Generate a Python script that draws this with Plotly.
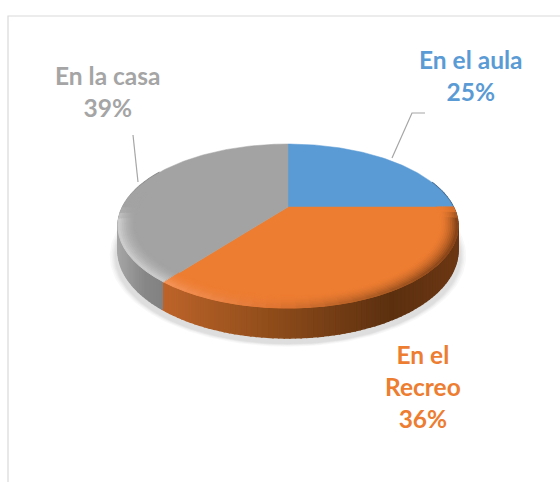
import numpy as np
import plotly.graph_objects as go

categories = ["En el aula", "En el Recreo", "En la casa"]
values = [25, 35.5, 39.5]
labels = ["En el aula<br>25%", "En el<br>Recreo<br>36%", "En la casa<br>39%"]
colors = ["#5B9BD5", "#ED7D31", "#A3A3A3"]
text_colors = ["#5B9BD5", "#ED7D31", "#A5A5A5"]

# perspective disc model (pixel-like axis units)
CX, CY, A, B, K, DEPTH = 288, 207, 165.4, 77.6, 0.2317, 23


def project(theta, r=1.0, down=False):
    X = r * np.sin(theta)
    Y = r * np.cos(theta)
    den = 1 + K * Y
    x = CX + A * X / den
    y = CY - B * Y / den
    if down:
        y = y + DEPTH / den
    return x, y


def lerp_stops(s, stops):
    xs = [p[0] for p in stops]
    return [float(np.interp(s, xs, [p[1][i] for p in stops])) for i in range(3)]


def rgb(c):
    return "rgb(%d,%d,%d)" % tuple(int(round(v)) for v in c)


WALL = {
    0: [(-1, (90, 130, 170)), (1, (60, 95, 130))],
    1: [(-0.75, (190, 100, 42)), (-0.2, (150, 80, 28)), (0.6, (92, 48, 15)), (1, (108, 55, 20))],
    2: [(-1, (165, 165, 165)), (-0.85, (135, 135, 135)), (-0.7, (128, 128, 128))],
}
RIM = {
    0: [(-1, (91, 155, 213)), (1, (91, 155, 213))],
    1: [(-0.75, (246, 150, 92)), (-0.1, (225, 118, 52)), (0.6, (160, 85, 32)), (1, (125, 62, 22))],
    2: [(-1, (208, 208, 208)), (-0.7, (205, 205, 205))],
}

edges = 2 * np.pi * np.cumsum([0] + values) / sum(values)


def slice_index(theta):
    return int(np.clip(np.searchsorted(edges, theta, side="right") - 1, 0, len(values) - 1))


def poly(fig, x, y, color, width=1.0):
    fig.add_trace(go.Scatter(
        x=list(x) + [x[0]], y=list(y) + [y[0]], mode="lines", fill="toself",
        fillcolor=color, line=dict(color=color, width=width),
        hoverinfo="skip", showlegend=False))


fig = go.Figure()

# soft floor shadow
circle = np.linspace(0, 2 * np.pi, 181)
for i, grow in enumerate([1.03, 1.02, 1.012, 1.006, 1.0]):
    sx = 288 + 173 * grow * np.sin(circle)
    sy = 256 + 88 * grow * np.cos(circle)
    poly(fig, sx, sy, "rgba(120,120,120,0.05)", width=0)

# side wall
steps = np.radians(np.arange(70, 300, 1.5))
for t0, t1 in zip(steps[:-1], steps[1:]):
    mid = (t0 + t1) / 2
    idx = slice_index(mid)
    x0, y0 = project(t0)
    x1, y1 = project(t1)
    x2, y2 = project(t1, down=True)
    x3, y3 = project(t0, down=True)
    s = (project(mid)[0] - CX) / 170
    poly(fig, [x0, x1, x2, x3], [y0, y1, y2, y3], rgb(lerp_stops(s, WALL[idx])), width=1.5)

# top slices
for i, v in enumerate(values):
    th = np.linspace(edges[i], edges[i + 1], 120)
    x, y = project(th)
    fig.add_trace(go.Scatter(
        x=np.r_[CX, x, CX], y=np.r_[CY, y, CY], mode="lines", fill="toself",
        fillcolor=colors[i], line=dict(color=colors[i], width=0.5),
        name=categories[i], hoverinfo="name", showlegend=False))

# bevel on the near rim
radii = np.linspace(0.90, 1.0, 11)
arc = np.radians(np.arange(90, 286, 4.0))
base = {i: tuple(int(colors[i][j:j + 2], 16) for j in (1, 3, 5)) for i in range(3)}
for r0, r1 in zip(radii[:-1], radii[1:]):
    frac = ((r0 + r1) / 2 - 0.90) / 0.10
    for t0, t1 in zip(arc[:-1], arc[1:]):
        mid = (t0 + t1) / 2
        idx = slice_index(mid)
        weight = np.clip(-np.cos(mid) * 6, 0, 1) * frac ** 1.8
        s = (project(mid)[0] - CX) / 170
        rim = lerp_stops(s, RIM[idx])
        col = [base[idx][c] * (1 - weight) + rim[c] * weight for c in range(3)]
        xa, ya = project(np.array([t0, t1]), r0)
        xb, yb = project(np.array([t1, t0]), r1)
        poly(fig, np.r_[xa, xb], np.r_[ya, yb], rgb(col), width=1.0)

# leader lines
fig.add_trace(go.Scatter(x=[392, 412, 425], y=[158, 113, 113], mode="lines",
                         line=dict(color="#A6A6A6", width=1.2), hoverinfo="skip", showlegend=False))
fig.add_trace(go.Scatter(x=[133, 138], y=[135, 182], mode="lines",
                         line=dict(color="#A6A6A6", width=1.2), hoverinfo="skip", showlegend=False))

# frame
fig.add_trace(go.Scatter(x=[8, 8, 560], y=[482, 16, 16], mode="lines",
                         line=dict(color="#D9D9D9", width=1.2), hoverinfo="skip", showlegend=False))

label_pos = [(471, 75), (423, 386), (108, 91)]
for (lx, ly), txt, col in zip(label_pos, labels, text_colors):
    fig.add_annotation(x=lx, y=ly, text="<b>%s</b>" % txt, showarrow=False,
                       font=dict(family="Lato", size=24.5, color=col), align="center",
                       xanchor="center", yanchor="middle")

fig.update_layout(
    width=560, height=482, margin=dict(l=0, r=0, t=0, b=0),
    paper_bgcolor="white", plot_bgcolor="white", showlegend=False,
    xaxis=dict(range=[0, 560], visible=False, fixedrange=True),
    yaxis=dict(range=[482, 0], visible=False, fixedrange=True),
)
fig.write_html("out.html", config={"displayModeBar": False},
               post_script="document.body.style.margin='0';document.documentElement.style.overflow='hidden';")
